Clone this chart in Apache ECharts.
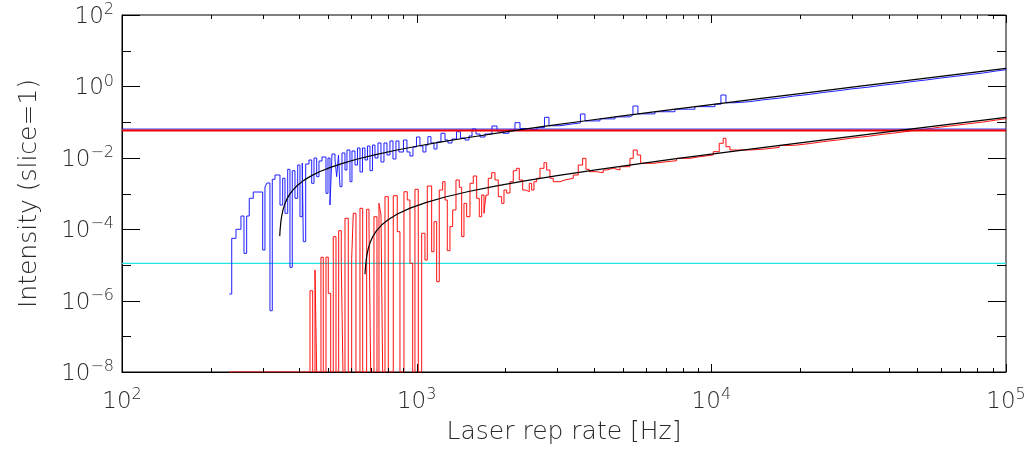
<!DOCTYPE html>
<html><head><meta charset="utf-8">
<script src="https://cdn.jsdelivr.net/npm/echarts@6/dist/echarts.min.js"></script>
<style>html,body{margin:0;padding:0;background:#fff}#c{width:1036px;height:457px}</style>
</head><body><div id="c"></div>
<script>
// ---- data ----
const blueF = [231.3,235.7,243.7,253.3,259.4,264.9,270.3,278.9,300.2,305.6,310.4,317.8,323.6,330.5,343.7,351.0,357.4,365.0,371.6,378.3,386.4,394.7,401.8,409.1,412.3,420.1,431.1,440.3,448.3,457.8,466.1,477.2,492.3,500.1,508.0,516.0,528.2,535.3,542.8,549.2,557.9,571.1,580.1,593.8,603.2,617.5,629.7,642.1,654.8,667.7,680.9,694.3,708.0,722.0,739.1,756.6,774.5,792.9,811.7,830.9,850.6,870.8,902.0,927.0,948.9,971.4,998.5,1026,1050,1075,1092,1118,1145,1172,1209,1248,1277,1318,1365,1408,1459,1505,1541,1590,1640,1705,1801,1873,1963,2057,2156,2242,2386,2560,2715,2812,3064,3313,3596,3725,4188,4710,5295,5420,5636,6436,7524,8796,10286,10779,11209,12000,13500,15000,17000,19000,21500,24000,27000,30000,34000,38000,43000,48000,54000,60000,67000,75000,84000,92000,100000];
const blueI = [1.53e-6,5.56e-5,9.94e-5,2.34e-4,2.11e-5,2.34e-4,7.34e-4,1.10e-3,2.61e-5,1.52e-3,1.97e-3,5.21e-7,2.50e-3,3.30e-3,4.76e-4,2.67e-3,2.79e-4,4.76e-3,8.57e-6,4.35e-3,7.34e-4,6.28e-3,2.24e-4,7.15e-3,4.47e-5,6.71e-3,8.68e-3,1.93e-3,9.87e-3,2.96e-3,8.13e-3,1.053e-2,1.013e-3,9.87e-3,4.76e-4,1.278e-2,8.68e-3,2.96e-3,1.198e-2,1.55e-3,1.363e-2,4.55e-3,1.654e-2,2.14e-3,1.55e-2,6.28e-3,1.882e-2,4.00e-3,1.882e-2,8.68e-3,2.14e-2,4.35e-3,2.28e-2,9.87e-3,2.60e-2,7.63e-3,2.60e-2,1.198e-2,2.96e-2,9.26e-3,2.96e-2,1.454e-2,3.15e-2,1.454e-2,1.123e-2,2.01e-2,3.82e-2,2.14e-2,1.454e-2,2.28e-2,3.90e-2,2.60e-2,1.764e-2,2.77e-2,4.86e-2,3.15e-2,2.60e-2,3.36e-2,5.38e-2,3.59e-2,3.15e-2,4.08e-2,6.41e-2,4.64e-2,3.82e-2,4.64e-2,7.78e-2,5.63e-2,4.86e-2,6.01e-2,9.62e-2,6.6e-2,6.0e-2,7.0e-2,0.1363,7.9e-2,8.7e-2,9.5e-2,0.1686,0.108,0.123,0.140,0.159,0.2825,0.170,0.195,0.230,0.271,0.318,0.574,0.348,0.3731,0.4211,0.4691,0.5331,0.5971,0.6771,0.7571,0.8531,0.9491,1.077,1.205,1.365,1.525,1.717,1.909,2.133,2.389,2.677,2.933,3.189];

const redF = [230.7,434.5,443.7,451.8,457.8,473.4,482.0,492.3,501.3,510.8,521.2,532.4,543.7,554.8,562.2,571.1,586.0,601.8,609.4,622.3,642.1,655.8,676.6,688.9,698.1,716.3,733.3,744.9,756.6,766.7,780.6,801.0,832.9,859.3,877.6,905.5,929.1,948.9,969.2,986.8,1012.6,1039.9,1067,1086.4,1124.4,1145,1169.2,1193.2,1225.3,1248,1270.2,1297.2,1325,1359.6,1395.1,1421.4,1447.2,1478,1516.7,1556.3,1598.3,1631.1,1662,1692.1,1718.7,1749.9,1797,1844,1892,1943.1,1978.4,2020.5,2073.3,2127.3,2184.6,2229.5,2289.4,2349.1,2410.5,2456.1,2500.7,2554,2620.7,2704.1,2761.7,2833.8,2907.7,3064,3186,3400,3535.5,3658,3754,3852,4081.6,4297,4413,4647,4897,5295,5432.5,5605,5756,6351.5,7050,7623,8460,9149,10150,10636,10974,11209,11566,13500,15000,17000,19000,21500,24000,27000,30000,34000,38000,43000,48000,54000,60000,67000,75000,84000,92000,100000];
const redI = [1e-8,1.89e-6,1e-8,7.20e-6,1e-8,1.63e-5,1e-8,1.65e-5,1.60e-6,1e-8,6.17e-5,1e-8,9.08e-5,1.15e-5,1e-8,2.02e-4,1e-8,1.53e-5,2.79e-4,1e-8,3.85e-4,1e-8,3.61e-4,1.31e-4,1e-8,2.24e-4,1e-8,5.31e-4,2.50e-4,1e-8,8.14e-4,1e-8,8.68e-4,8.51e-5,1e-8,1.12e-3,6.58e-4,1.11e-5,1e-8,1.31e-3,1e-8,7.68e-5,1.37e-5,1.62e-3,2.34e-5,1.62e-4,3.38e-6,1.25e-3,2.14e-3,6.58e-4,2.50e-5,1.18e-4,3.45e-4,2.39e-3,1.49e-3,6.17e-5,5.31e-4,2.24e-4,1.93e-3,3.09e-3,7.34e-4,2.24e-4,9.08e-4,2.79e-4,9.08e-4,2.67e-3,3.83e-3,2.39e-3,8.14e-4,5.31e-4,1.25e-3,1.03e-3,2.14e-3,4.35e-3,5.08e-3,2.39e-3,1.25e-3,1.12e-3,1.93e-3,1.25e-3,2.14e-3,2.67e-3,5.08e-3,7.29e-3,4.55e-3,2.67e-3,2.14e-3,2.39e-3,2.67e-3,3.30e-3,6.28e-3,9.68e-3,4.76e-3,4.08e-3,3.83e-3,4.55e-3,5.08e-3,4.55e-3,5.63e-3,9.68e-3,1.654e-2,1.198e-2,7.01e-3,7.78e-3,8.29e-3,9.68e-3,1.074e-2,1.198e-2,1.482e-2,2.55e-2,3.52e-2,2.05e-2,1.654e-2,1.746e-2,1.950e-2,2.222e-2,2.494e-2,2.834e-2,3.174e-2,3.582e-2,3.990e-2,4.534e-2,5.078e-2,5.758e-2,6.438e-2,7.254e-2,8.070e-2,9.022e-2,0.1011,0.1133,0.1242,0.1351];

const fitBlueF = [343,344,346,348,352,356,362,370,380,395,415,440,470,510,560,630,720,850,1000,1200,1500,2000,2700,3700,5000,7000,10000,15000,22000,32000,45000,65000,100000];
const fitBlueI = [6.4e-5,9.6e-5,1.6e-4,2.24e-4,3.52e-4,4.8e-4,6.72e-4,9.28e-4,1.248e-3,1.728e-3,2.368e-3,3.168e-3,4.128e-3,5.408e-3,7.008e-3,9.248e-3,1.2128e-2,1.629e-2,2.109e-2,2.749e-2,3.709e-2,5.309e-2,7.549e-2,0.1075,0.1491,0.2131,0.3091,0.4691,0.6931,1.013,1.429,2.069,3.189];

const fitRedF = [668,669,671,674,678,685,695,710,730,760,800,860,950,1080,1250,1500,1850,2300,3000,4000,5500,7500,10000,14000,20000,30000,45000,65000,100000];
const fitRedI = [5.44e-6,6.8e-6,9.52e-6,1.36e-5,1.904e-5,2.856e-5,4.216e-5,6.256e-5,8.976e-5,1.306e-4,1.85e-4,2.666e-4,3.89e-4,5.658e-4,7.97e-4,1.137e-3,1.613e-3,2.225e-3,3.177e-3,4.537e-3,6.577e-3,9.297e-3,1.27e-2,1.814e-2,2.63e-2,3.99e-2,6.03e-2,8.75e-2,0.1351];

const blueLevel = 0.0638, redLevel = 0.0585, cyanLevel = 1.1e-5;

const X_MIN = 100, X_MAX = 100000, Y_MIN = 1e-8, Y_MAX = 100;
const xMajorTicks = [100, 1000, 10000, 100000];
const xMinorTicks = [200,300,400,500,600,700,800,900,2000,3000,4000,5000,6000,7000,8000,9000,20000,30000,40000,50000,60000,70000,80000,90000];
const yMajorTicks = [1e-8, 1e-6, 1e-4, 1e-2, 1, 100];
const yMinorTicks = [1e-7, 1e-5, 1e-3, 1e-1, 10];
const xTitle = 'Laser rep rate [Hz]';
const yTitle = 'Intensity (slice=1)';

// ---- chart ----
const zip = (a, b) => a.map((v, i) => [v, b[i]]);
const hline = level => [[X_MIN, level], [X_MAX, level]];
const FONT = 'DejaVu Sans';
const TXT = '#2a2a2a';
const rich = {
  b: {fontSize: 23, lineHeight: 30, verticalAlign: 'middle', fontFamily: FONT, fill: TXT, color: TXT, fontWeight: 200},
  s: {fontSize: 16, lineHeight: 20, verticalAlign: 'top', fontFamily: FONT, fill: TXT, color: TXT, fontWeight: 200}
};
function expLabel(v) {
  const e = Math.round(Math.log10(v));
  return '{b|10}{s|' + (e < 0 ? '\u2212' + (-e) : e) + '}';
}
function xTicks(len) {
  return function (params, api) {
    const f = api.value(0);
    const b = api.coord([f, Y_MIN]), t = api.coord([f, Y_MAX]);
    const x = Math.round(b[0]) + 0.5;
    return {type: 'group', children: [
      {type: 'line', shape: {x1: x, y1: b[1], x2: x, y2: b[1] - len}, style: {stroke: '#000', lineWidth: 1}},
      {type: 'line', shape: {x1: x, y1: t[1], x2: x, y2: t[1] + len}, style: {stroke: '#000', lineWidth: 1}}
    ]};
  };
}
function yTicks(len) {
  return function (params, api) {
    const v = api.value(1);
    const l = api.coord([X_MIN, v]), r = api.coord([X_MAX, v]);
    const y = Math.round(l[1]) + 0.5;
    return {type: 'group', children: [
      {type: 'line', shape: {x1: l[0], y1: y, x2: l[0] + len, y2: y}, style: {stroke: '#000', lineWidth: 1}},
      {type: 'line', shape: {x1: r[0], y1: y, x2: r[0] - len, y2: y}, style: {stroke: '#000', lineWidth: 1}}
    ]};
  };
}
function yLabels(params, api) {
  const v = api.value(1);
  const p = api.coord([X_MIN, v]);
  return {type: 'text', x: p[0] - 8, y: p[1] + 2, style: {text: expLabel(v), rich: rich, align: 'right', verticalAlign: 'middle', fill: TXT}};
}
const flat = (color, width, z) => ({type: 'line', symbol: 'none', silent: true, z: z, lineStyle: {color: color, width: width}});
const chart = echarts.init(document.getElementById('c'), null, {renderer: 'canvas'});
chart.setOption({
  animation: false,
  backgroundColor: '#fff',
  grid: {left: 122, right: 30, top: 15, bottom: 85, show: true, borderColor: '#000', borderWidth: 1, backgroundColor: 'transparent'},
  xAxis: {
    type: 'log', logBase: 10, min: X_MIN, max: X_MAX, splitNumber: 3,
    name: xTitle, nameLocation: 'middle', nameGap: 48,
    nameTextStyle: {fontFamily: FONT, fontSize: 25, color: TXT, fontWeight: 200},
    axisLine: {show: true, lineStyle: {color: '#000', width: 1}},
    axisTick: {show: false}, splitLine: {show: false}, minorTick: {show: false},
    axisLabel: {margin: 15, formatter: v => expLabel(v), rich: rich}
  },
  yAxis: {
    type: 'log', logBase: 10, min: Y_MIN, max: Y_MAX, splitNumber: 10,
    name: yTitle, nameLocation: 'middle', nameGap: 80,
    nameTextStyle: {fontFamily: FONT, fontSize: 25, color: TXT, fontWeight: 200},
    axisLine: {show: true, lineStyle: {color: '#000', width: 1}},
    axisTick: {show: false}, splitLine: {show: false}, minorTick: {show: false},
    axisLabel: {show: false}
  },
  series: [
    Object.assign(flat('#22e4e4', 1.3, 1), {name: 'cyanLevel', data: hline(cyanLevel)}),
    {name: 'blue', type: 'line', data: zip(blueF, blueI), step: 'end', symbol: 'none', silent: true, z: 2,
     lineStyle: {color: '#1f1fff', width: 1}},
    {name: 'red', type: 'line', data: zip(redF, redI), step: 'end', symbol: 'none', silent: true, z: 3,
     lineStyle: {color: '#ff1010', width: 1}},
    Object.assign(flat('#1f1fff', 1, 3), {name: 'blueLevel', data: hline(blueLevel)}),
    Object.assign(flat('#ee0000', 2, 3), {name: 'redLevel', data: hline(redLevel)}),
    {name: 'fitBlue', type: 'line', data: zip(fitBlueF, fitBlueI), symbol: 'none', silent: true, z: 4,
     lineStyle: {color: '#000', width: 1.2}},
    {name: 'fitRed', type: 'line', data: zip(fitRedF, fitRedI), symbol: 'none', silent: true, z: 4,
     lineStyle: {color: '#000', width: 1.2}},
    {type: 'custom', silent: true, z: 6, renderItem: xTicks(8), data: xMajorTicks.map(v => [v, Y_MIN])},
    {type: 'custom', silent: true, z: 6, renderItem: xTicks(4), data: xMinorTicks.map(v => [v, Y_MIN])},
    {type: 'custom', silent: true, z: 6, renderItem: yTicks(18), data: yMajorTicks.map(v => [X_MIN, v])},
    {type: 'custom', silent: true, z: 6, renderItem: yTicks(9), data: yMinorTicks.map(v => [X_MIN, v])},
    {type: 'custom', silent: true, z: 6, clip: false, renderItem: yLabels, data: yMajorTicks.map(v => [X_MIN, v])}
  ]
});
</script>
</body></html>
